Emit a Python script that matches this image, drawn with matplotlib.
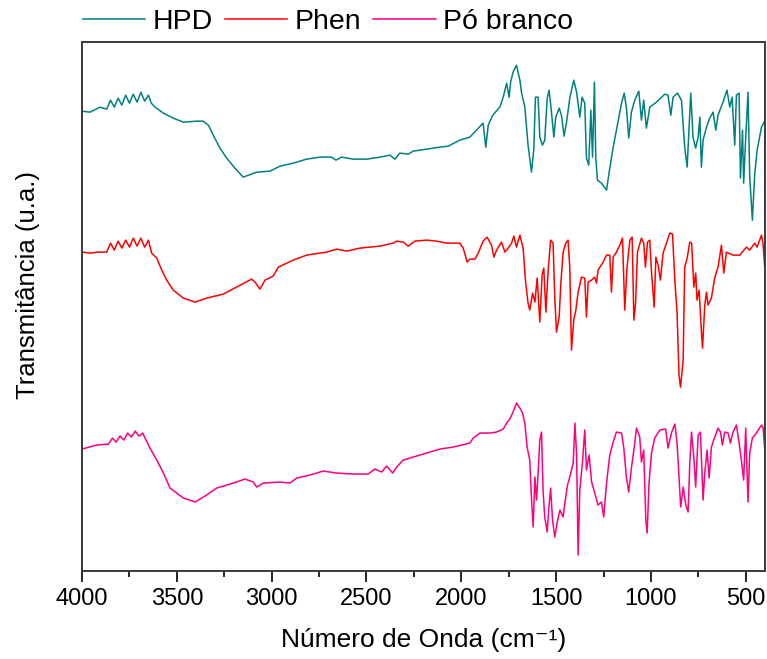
import matplotlib
matplotlib.use('Agg')
import matplotlib.pyplot as plt
from matplotlib.ticker import MultipleLocator

# FTIR spectra, offset vertically (arbitrary units)
wn_hpd = [4000, 3958, 3905, 3870, 3850, 3830, 3810, 3790, 3770, 3750, 3730, 3710,
          3690, 3670, 3650, 3635, 3615, 3571, 3519, 3466,
          3395, 3361, 3334, 3308, 3273, 3237, 3194, 3150, 3079, 3009, 2956, 2886,
          2816, 2745, 2684, 2661, 2631, 2570, 2499, 2429, 2377, 2350, 2324, 2280,
          2254, 2183, 2113, 2069, 2008, 1955, 1920, 1885, 1871, 1858, 1834, 1797,
          1779, 1761, 1748, 1740, 1727, 1709, 1691, 1682, 1665, 1656, 1648, 1630,
          1618, 1609, 1595, 1586, 1572, 1560, 1547, 1537, 1524, 1512, 1502, 1484,
          1472, 1458, 1445, 1428, 1407, 1392, 1375, 1363, 1349, 1340, 1328, 1317,
          1308, 1298, 1291, 1282, 1261, 1234, 1221, 1199, 1182, 1155, 1141, 1129,
          1117, 1103, 1085, 1064, 1050, 1038, 1024, 1006, 971, 927, 910, 895, 883,
          860, 839, 822, 809, 799, 790, 778, 764, 751, 742, 734, 725, 707, 690,
          672, 658, 646, 620, 599, 584, 572, 558, 549, 535, 528, 517, 511, 500,
          488, 479, 465, 453, 440, 417, 400]
t_hpd = [460, 459, 464, 462, 471, 464, 473, 466, 476, 468, 477, 469,
         479, 470, 476, 468, 464, 458, 453, 449,
         450, 450, 446, 436, 423, 413, 403, 394, 399, 400, 405, 408,
         412, 414, 414, 411, 414, 412, 412, 414, 416, 412, 418, 417,
         420, 422, 424, 425, 431, 434, 441, 448, 424, 446, 456, 464,
         474, 488, 474, 489, 499, 506, 491, 478, 464, 444, 426, 399,
         421, 474, 474, 434, 426, 431, 473, 481, 458, 434, 454, 463,
         456, 435, 449, 473, 491, 479, 454, 474, 468, 413, 406, 461,
         414, 489, 414, 391, 388, 381, 398, 424, 441, 468, 478, 463,
         433, 459, 471, 480, 451, 471, 443, 464, 469, 477, 476, 456, 474,
         478, 471, 424, 404, 444, 478, 434, 423, 434, 454, 404, 431, 444, 453,
         459, 441, 456, 469, 481, 464, 474, 426, 476, 478, 393, 441, 388, 434,
         479, 394, 351, 396, 421, 444, 450]

wn_phen = [4000, 3958, 3914, 3870, 3850, 3830, 3810, 3790, 3770, 3750, 3730, 3710,
           3690, 3670, 3650, 3633, 3606, 3580, 3554,
           3519, 3466, 3404, 3343, 3255, 3185, 3106, 3088, 3062, 3035, 2992, 2965,
           2886, 2816, 2710, 2657, 2605, 2535, 2429, 2359, 2341, 2306, 2280, 2245,
           2183, 2130, 2078, 2008, 1990, 1969, 1955, 1928, 1911, 1885, 1864, 1841,
           1828, 1814, 1788, 1770, 1753, 1735, 1723, 1709, 1691, 1674, 1661, 1648,
           1639, 1624, 1612, 1600, 1586, 1574, 1565, 1554, 1542, 1529, 1516, 1507,
           1498, 1484, 1475, 1463, 1449, 1437, 1428, 1419, 1407, 1396, 1384, 1366,
           1349, 1340, 1331, 1313, 1296, 1287, 1279, 1252, 1234, 1217, 1208, 1199,
           1182, 1164, 1150, 1138, 1126, 1111, 1099, 1090, 1081, 1071, 1050, 1038,
           1029, 1018, 1006, 997, 983, 974, 962, 950, 936, 918, 901, 886, 874, 862,
           852, 844, 830, 822, 809, 795, 785, 774, 764, 757, 746, 734, 728, 716,
           707, 699, 681, 664, 646, 628, 616, 602, 567, 532, 496, 479, 453, 440,
           417, 409, 400]
t_phen = [319, 318, 319, 319, 328, 321, 330, 323, 331, 324, 333, 325,
          333, 324, 331, 318, 313, 301, 291,
          281, 273, 269, 273, 277, 284, 292, 289, 282, 291, 295, 304,
          311, 316, 319, 322, 320, 323, 325, 328, 330, 329, 325, 330,
          331, 330, 328, 328, 323, 309, 312, 312, 318, 330, 334, 326,
          314, 321, 329, 319, 323, 328, 335, 324, 336, 323, 289, 268,
          261, 278, 269, 293, 249, 296, 303, 259, 301, 331, 328, 273,
          239, 254, 288, 319, 328, 331, 304, 221, 251, 261, 279, 294,
          293, 254, 289, 291, 294, 288, 301, 309, 316, 316, 279, 314,
          319, 326, 333, 261, 304, 331, 334, 251, 268, 319, 333, 328,
          304, 329, 331, 299, 264, 314, 306, 291, 318, 328, 338, 337, 291, 258,
          196, 184, 211, 304, 313, 329, 328, 284, 298, 271, 281, 241, 223, 266,
          279, 266, 273, 293, 304, 326, 298, 319, 316, 316, 324, 321, 328, 324,
          336, 328, 304]

wn_po = [4000, 3923, 3860, 3840, 3820, 3800, 3780, 3760, 3740, 3720, 3700, 3680,
         3668, 3642, 3606, 3571, 3536, 3466,
         3404, 3343, 3290, 3202, 3141, 3097, 3079, 3044, 2956, 2904, 2868, 2798,
         2728, 2657, 2570, 2491, 2456, 2420, 2394, 2362, 2341, 2306, 2254, 2183,
         2113, 2043, 1955, 1937, 1902, 1849, 1814, 1779, 1761, 1744, 1727, 1709,
         1691, 1677, 1665, 1653, 1639, 1630, 1621, 1612, 1603, 1595, 1586, 1577,
         1569, 1560, 1547, 1538, 1529, 1519, 1507, 1495, 1480, 1463, 1454, 1440,
         1428, 1410, 1401, 1392, 1384, 1375, 1361, 1349, 1340, 1326, 1313, 1296,
         1279, 1261, 1249, 1234, 1217, 1199, 1182, 1155, 1143, 1129, 1117, 1103,
         1090, 1076, 1059, 1050, 1038, 1027, 1020, 1010, 997, 980, 953, 922, 910,
         892, 874, 862, 852, 843, 830, 816, 804, 795, 786, 774, 764, 751, 739,
         725, 716, 704, 693, 681, 669, 646, 633, 623, 611, 593, 581, 567, 549,
         535, 523, 511, 500, 488, 479, 465, 444, 417, 409, 400]
t_po = [122, 126, 127, 133, 129, 135, 131, 138, 134, 140, 135, 138,
        133, 123, 111, 98, 83, 73,
        69, 76, 83, 88, 92, 89, 84, 88, 89, 88, 93, 96,
        100, 98, 97, 97, 102, 99, 105, 98, 104, 111, 114, 118,
        122, 124, 128, 133, 138, 138, 139, 142, 148, 152, 159, 168,
        163, 158, 148, 124, 111, 73, 44, 94, 71, 98, 131, 139,
        81, 54, 39, 64, 83, 51, 34, 48, 61, 54, 68, 86,
        94, 108, 148, 116, 16, 81, 109, 141, 101, 116, 89, 78,
        66, 69, 54, 88, 116, 129, 139, 138, 123, 93, 79, 103,
        121, 143, 134, 109, 121, 51, 38, 88, 118, 133, 141, 142, 123,
        138, 147, 128, 94, 64, 84, 66, 59, 108, 139, 114, 84, 136, 139,
        71, 98, 121, 93, 124, 131, 143, 139, 126, 139, 138, 128, 139, 146,
        128, 111, 91, 143, 69, 118, 133, 138, 146, 144, 123]

labels = ['HPD', 'Phen', 'Pó branco']
colors = ['#008080', '#FF0000', '#FF0080']

plt.rcParams['font.family'] = ['Liberation Sans', 'DejaVu Sans']

fig = plt.figure(figsize=(7.67, 6.59), dpi=100)
ax = fig.add_axes([0.107, 0.1335, 0.890, 0.8025])

for wn, t, lab, c in zip([wn_hpd, wn_phen, wn_po], [t_hpd, t_phen, t_po], labels, colors):
    ax.plot(wn, t, color=c, lw=1.1, label=lab)

ax.set_xlim(4000, 400)
ax.set_ylim(0, 529)
ax.xaxis.set_major_locator(MultipleLocator(500))
ax.xaxis.set_minor_locator(MultipleLocator(250))
ax.set_yticks([])
ax.tick_params(axis='x', which='major', direction='out', length=8, width=1.2,
               labelsize=17, pad=4)
ax.tick_params(axis='x', which='minor', direction='out', length=4.5, width=1.2)
for s in ax.spines.values():
    s.set_linewidth(1.4)
    s.set_color('#3a3a3a')

ax.set_xlabel('Número de Onda (cm⁻¹)', fontsize=19, labelpad=13)
ax.set_ylabel('Transmitância (u.a.)', fontsize=18.5)
ax.yaxis.set_label_coords(-0.061, 0.5416)

fig.legend(loc='upper left', bbox_to_anchor=(0.108, 0.986), ncol=3, frameon=False,
           fontsize=20.5, handlelength=2.2, handletextpad=0.25, columnspacing=0.42,
           borderaxespad=0, borderpad=0)

fig.savefig('out.png', dpi=100)
